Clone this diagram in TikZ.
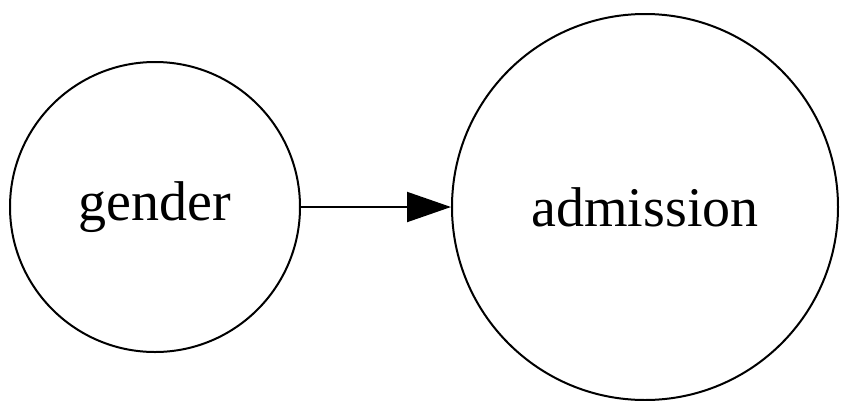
\documentclass[tikz,border=0pt]{standalone}
\usepackage{fontspec}
\setmainfont{Liberation Serif}
\usetikzlibrary{arrows.meta}
\begin{document}
\begin{tikzpicture}[x=1pt,y=-1pt,
  var/.style={draw, circle, line width=2pt, inner sep=0pt, font=\fontsize{56}{60}\selectfont},
  edge/.style={line width=2pt, -{Triangle[length=44pt,width=30pt]}}]
\useasboundingbox (0,0) rectangle (841,400);
\node[var, minimum size=290pt] (g) at (155,207) {gender};
\node[var, minimum size=386pt] (a) at (645,207) {admission};
\draw[edge] (g) -- (a);
\end{tikzpicture}
\end{document}
